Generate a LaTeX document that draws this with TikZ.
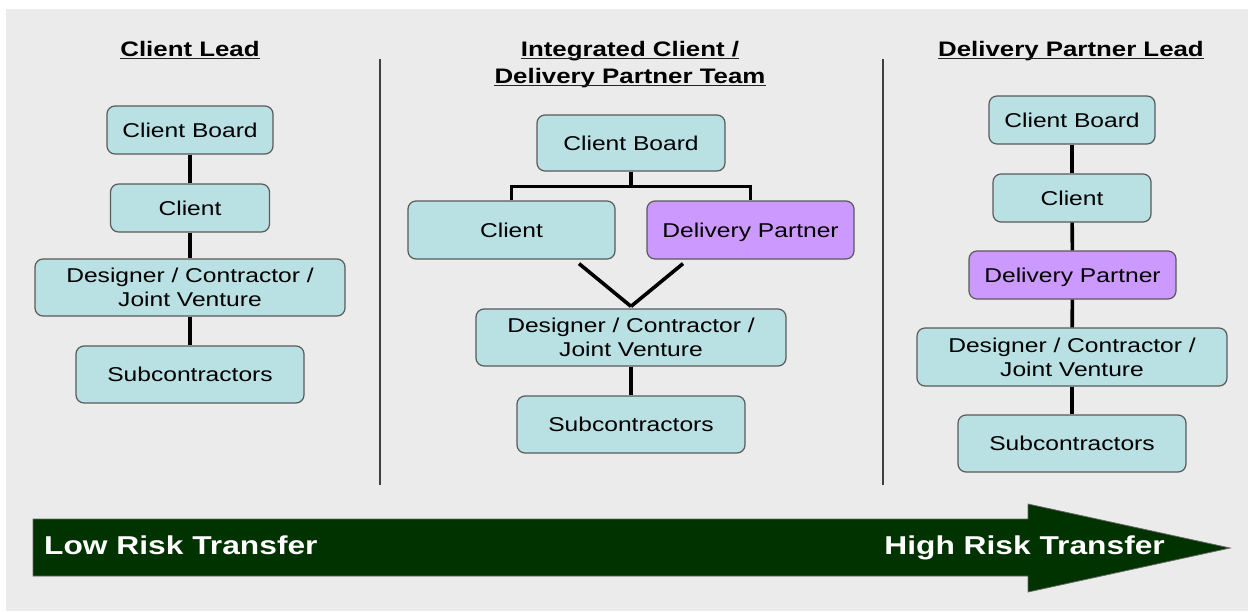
\documentclass[tikz,border=0pt]{standalone}
\usepackage{fontspec}
\setmainfont{Liberation Sans}[FakeStretch=1.23]
\usetikzlibrary{calc}
\definecolor{bgGray}{HTML}{EBEBEB}
\definecolor{boxCyan}{HTML}{B9E0E3}
\definecolor{boxPurple}{HTML}{CC99FF}
\definecolor{boxLine}{HTML}{5A5A5A}
\definecolor{riskGreen}{HTML}{003300}
\tikzset{
  orgbox/.style={draw=boxLine, line width=1.2pt, fill=boxCyan, rounded corners=8pt,
    align=center, inner sep=0pt, font=\fontsize{20}{24}\selectfont},
  oneline/.style={orgbox, text height=14.5pt, text depth=0.5pt},
  partner/.style={oneline, fill=boxPurple},
  link/.style={line width=3.6pt, black},
  divider/.style={line width=1.3pt, draw=black!75},
  heading/.style={inner sep=0pt, anchor=base, font=\bfseries\fontsize{21}{25}\selectfont},
  uline/.style={line width=1.8pt, black!85},
  risklabel/.style={inner sep=0pt, text=white, font=\bfseries\fontsize{25.8}{30}\selectfont}
}
\begin{document}
\begin{tikzpicture}[x=1pt, y=-1pt]
\useasboundingbox (0,0) rectangle (1248,611);
\fill[bgGray] (6,9) rectangle (1248,611);

% column dividers
\draw[divider] (380,59) -- (380,485);
\draw[divider] (883,59) -- (883,485);

% headings
\node[heading] (h1) at (190,56) {Client Lead};
\node[heading] (h2a) at (630,56) {Integrated Client /};
\node[heading] (h2b) at (630,83) {Delivery Partner Team};
\node[heading] (h3) at (1071,56) {Delivery Partner Lead};
\foreach \h in {h1,h2a,h2b,h3}
  \draw[uline] ([yshift=-2.5pt]\h.base west) -- ([yshift=-2.5pt]\h.base east);

% client lead column
\node[oneline, minimum width=166pt, minimum height=48pt] (cb1) at (190,130) {Client Board};
\node[oneline, minimum width=159pt, minimum height=48pt] (c1) at (190,208) {Client};
\node[orgbox, minimum width=310pt, minimum height=57pt] (d1) at (190,287.5) {Designer / Contractor /\\Joint Venture};
\node[oneline, minimum width=228pt, minimum height=57pt] (s1) at (190,374.5) {Subcontractors};
\draw[link] (cb1) -- (c1);
\draw[link] (c1) -- (d1);
\draw[link] (d1) -- (s1);

% integrated team column
\node[oneline, minimum width=188pt, minimum height=56pt] (cb2) at (631,143) {Client Board};
\node[oneline, minimum width=207pt, minimum height=58pt] (c2) at (511.5,230) {Client};
\node[partner, minimum width=207pt, minimum height=58pt] (dp2) at (750.5,230) {Delivery Partner};
\node[orgbox, minimum width=310pt, minimum height=57pt] (d2) at (631,337.5) {Designer / Contractor /\\Joint Venture};
\node[oneline, minimum width=228pt, minimum height=57pt] (s2) at (631,424.5) {Subcontractors};
\draw[link] (cb2.south) -- ++(0,15) coordinate (split);
\draw[link] (c2.north) |- (split) -| (dp2.north);
\draw[link] ([xshift=67.5pt, yshift=-4pt]c2.south) -- ([yshift=2pt]d2.north);
\draw[link] ([xshift=-67.5pt, yshift=-4pt]dp2.south) -- ([yshift=2pt]d2.north);
\draw[link] (d2) -- (s2);

% delivery partner lead column
\node[oneline, minimum width=166pt, minimum height=48pt] (cb3) at (1072,120) {Client Board};
\node[oneline, minimum width=158pt, minimum height=48pt] (c3) at (1072,198) {Client};
\node[partner, minimum width=207pt, minimum height=48pt] (dp3) at (1072.5,275) {Delivery Partner};
\node[orgbox, minimum width=310pt, minimum height=58pt] (d3) at (1072,357) {Designer / Contractor /\\Joint Venture};
\node[oneline, minimum width=228pt, minimum height=57pt] (s3) at (1072,443.5) {Subcontractors};
\draw[link] (cb3) -- (c3);
\draw[link] (c3) -- (dp3);
\draw[link] (dp3) -- (d3);
\draw[link] (d3) -- (s3);

% risk transfer arrow
\draw[fill=riskGreen, draw=black!60, line width=0.8pt]
  (33,519) -- (1028,519) -- (1028,504) -- (1230,548) -- (1028,592) -- (1028,576) -- (33,576) -- cycle;
\node[risklabel, anchor=base west] (low) at (44,554) {Low Risk Transfer};
\node[risklabel, anchor=base east] (high) at (1165,554) {High Risk Transfer};
\end{tikzpicture}
\end{document}
